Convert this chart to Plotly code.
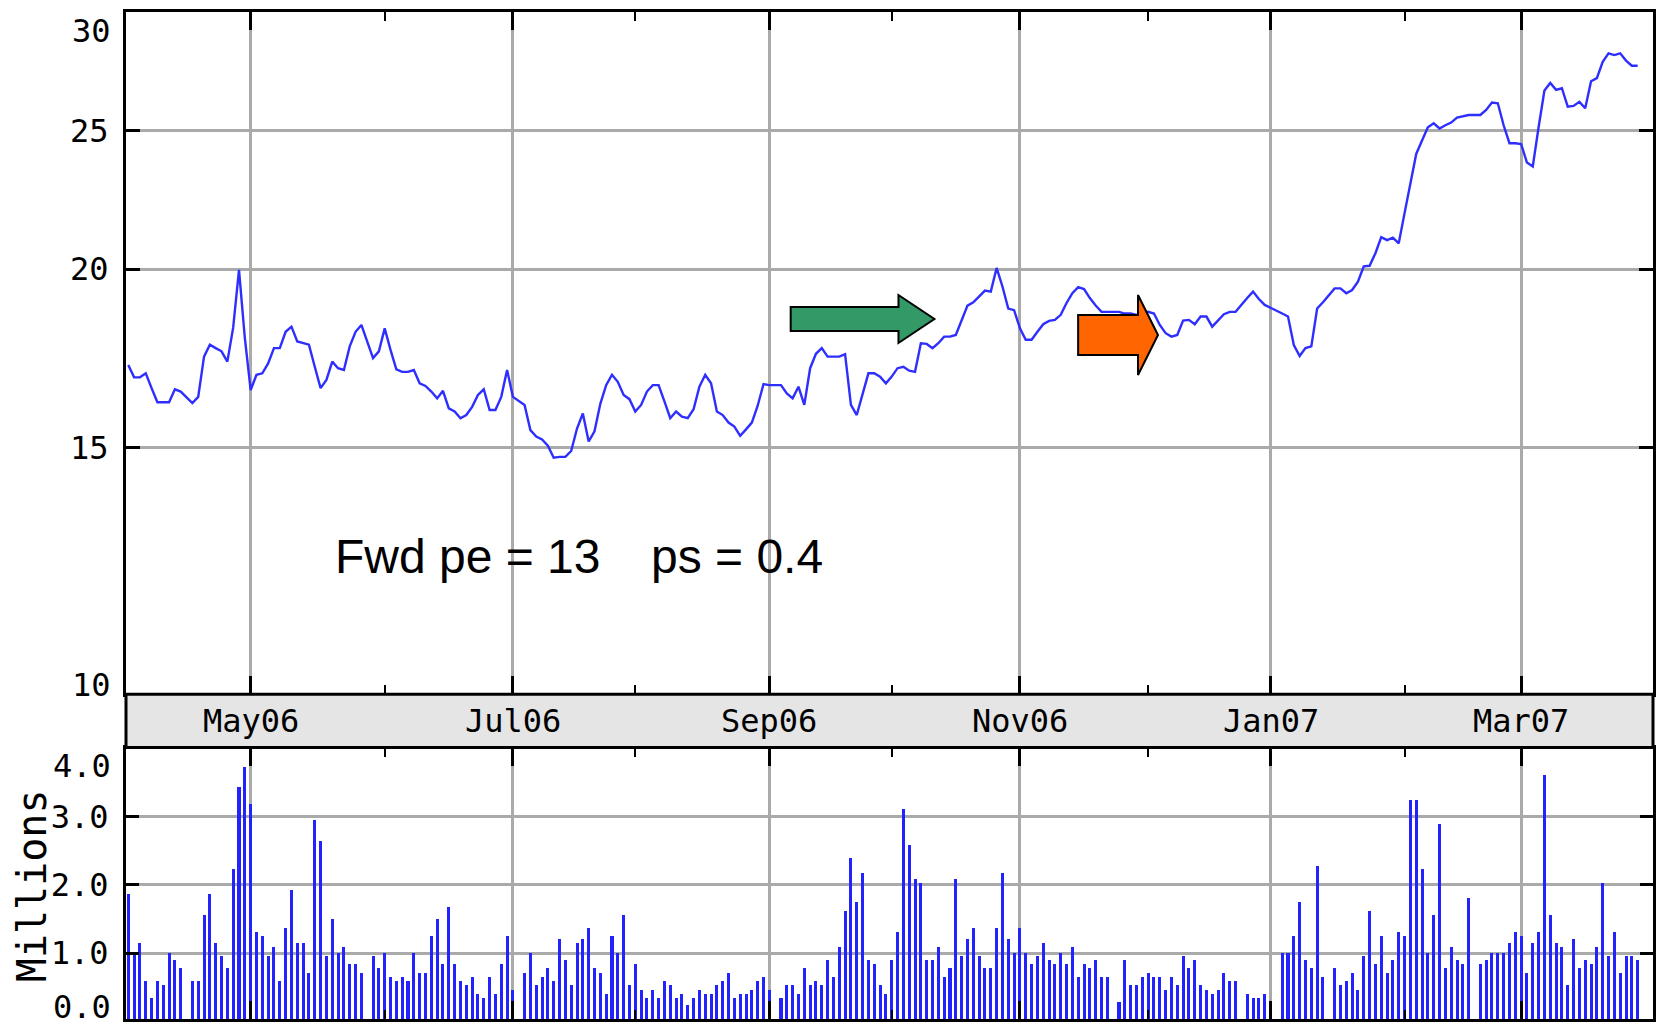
import numpy as np
import pandas as pd
import plotly.graph_objects as go

# ---------------- data ----------------
holidays = ["2006-04-14", "2006-05-29", "2006-07-04", "2006-09-04", "2006-11-23",
            "2006-12-25", "2007-01-01", "2007-01-02", "2007-01-15", "2007-02-19"]
dates = [d for d in pd.bdate_range("2006-03-31", "2007-03-29")
         if d.strftime("%Y-%m-%d") not in holidays]

price_mar06 = [17.14]
price_apr06 = [16.80, 16.80, 16.91, 16.51, 16.14, 16.14, 16.14, 16.48, 16.42, 16.12,
               16.28, 17.37, 17.71, 17.61, 17.52, 17.23, 18.20, 19.98, 17.90]
price_may06 = [16.46, 16.87, 16.91, 17.18, 17.61, 17.61, 18.08, 18.23, 17.80, 17.75,
               17.71, 17.09, 16.51, 16.73, 17.23, 17.05, 17.00, 17.66, 18.08, 18.28,
               17.33, 17.52]
price_jun06 = [18.18, 17.56, 17.02, 16.95, 16.95, 17.00, 16.64, 16.57, 16.42, 16.24,
               16.44, 15.98, 15.90, 15.73, 15.81, 16.02, 16.33, 16.48, 15.94, 15.94,
               16.28, 17.00]
price_jul06 = [16.28, 16.07, 15.43, 15.27, 15.20, 15.05, 14.76, 14.78, 14.78, 14.92,
               15.47, 15.85, 15.15, 15.40, 16.10, 16.59, 16.87, 16.68, 16.33, 16.22]
price_aug06 = [15.90, 16.07, 16.42, 16.59, 16.59, 16.16, 15.73, 15.90, 15.77, 15.73,
               15.96, 16.55, 16.87, 16.64, 15.90, 15.81, 15.62, 15.52, 15.29, 15.45,
               15.62, 16.05, 16.62]
price_sep06 = [16.59, 16.59, 16.37, 16.24, 16.55, 16.07, 17.05, 17.45, 17.61, 17.37,
               17.37, 17.37, 17.44, 16.07, 15.81, 16.37, 16.91, 16.91, 16.82, 16.64]
price_oct06 = [16.82, 17.05, 17.09, 16.98, 16.95, 17.75, 17.73, 17.61, 17.75, 17.94,
               17.94, 17.99, 18.43, 18.86, 18.96, 19.14, 19.32, 19.29, 20.04, 19.45,
               18.77, 18.72]
price_nov06 = [18.18, 17.85, 17.85, 18.08, 18.30, 18.40, 18.43, 18.58, 18.94, 19.24,
               19.43, 19.37, 19.09, 18.86, 18.67, 18.67, 18.67, 18.62, 18.62, 18.58,
               18.62]
price_dec06 = [18.67, 18.62, 18.28, 18.04, 17.94, 17.99, 18.41, 18.43, 18.30, 18.53,
               18.53, 18.23, 18.40, 18.60, 18.67, 18.67, 19.09, 19.29, 19.06, 18.88]
price_jan07 = [18.62, 18.53, 17.70, 17.39, 17.61, 17.66, 18.77, 18.96, 19.39, 19.39,
               19.24, 19.34, 19.60, 20.09, 20.11, 20.52, 21.06, 20.96, 21.04, 20.85]
price_feb07 = [21.89, 22.95, 24.08, 24.61, 25.14, 25.30, 25.09, 25.22, 25.33, 25.53,
               25.60, 25.64, 25.64, 25.85, 26.16, 26.13, 25.22, 24.50, 24.50]
price_mar07 = [24.47, 23.75, 23.60, 25.14, 26.67, 27.00, 26.70, 26.77, 25.99, 26.02,
               26.19, 25.92, 27.07, 27.21, 27.93, 28.32, 28.24, 28.32, 27.99, 27.76,
               27.76]

vol_mar06 = [1.87]
vol_apr06 = [1.01, 1.15, 0.60, 0.35, 0.60, 0.54, 1.01, 0.90, 0.78, 0.60,
             0.60, 1.56, 1.87, 1.15, 0.96, 0.78, 2.24, 3.44, 3.74]
vol_may06 = [3.19, 1.32, 1.26, 0.96, 1.09, 0.60, 1.38, 1.93, 1.15, 1.15,
             0.72, 2.96, 2.65, 0.96, 1.50, 1.01, 1.09, 0.84, 0.84, 0.72,
             0.96, 0.78]
vol_jun06 = [1.01, 0.66, 0.60, 0.66, 0.60, 1.01, 0.72, 0.72, 1.26, 1.50,
             0.84, 1.69, 0.84, 0.60, 0.54, 0.66, 0.41, 0.35, 0.66, 0.41,
             0.84, 1.26]
vol_jul06 = [0.47, 0.72, 1.01, 0.54, 0.66, 0.78, 0.60, 1.21, 0.90, 0.54,
             1.15, 1.21, 1.38, 0.78, 0.72, 0.41, 1.26, 1.01, 1.56, 0.54]
vol_aug06 = [0.84, 0.47, 0.35, 0.47, 0.35, 0.60, 0.54, 0.35, 0.41, 0.24,
             0.35, 0.47, 0.41, 0.41, 0.54, 0.60, 0.72, 0.35, 0.41, 0.41,
             0.47, 0.60, 0.66]
vol_sep06 = [0.47, 0.35, 0.54, 0.54, 0.41, 0.78, 0.54, 0.60, 0.54, 0.90,
             0.66, 1.09, 1.63, 2.41, 1.75, 2.18, 0.90, 0.84, 0.54, 0.41]
vol_oct06 = [0.90, 1.32, 3.13, 2.59, 2.10, 2.04, 0.90, 0.90, 1.09, 0.66,
             0.78, 2.10, 0.96, 1.21, 1.38, 0.96, 0.78, 0.78, 1.38, 2.18,
             1.21, 1.01]
vol_nov06 = [1.38, 1.01, 0.84, 0.96, 1.15, 0.90, 0.84, 1.01, 0.84, 1.09,
             0.66, 0.84, 0.78, 0.90, 0.66, 0.66, 0.29, 0.90, 0.54, 0.54,
             0.66]
vol_dec06 = [0.72, 0.66, 0.66, 0.47, 0.66, 0.54, 0.96, 0.78, 0.90, 0.54,
             0.47, 0.41, 0.47, 0.72, 0.60, 0.60, 0.41, 0.35, 0.35, 0.41]
vol_jan07 = [1.01, 1.01, 1.26, 1.75, 0.90, 0.78, 2.29, 0.66, 0.78, 0.54,
             0.60, 0.72, 0.47, 0.96, 1.63, 0.84, 1.26, 0.72, 0.90, 1.32]
vol_feb07 = [1.26, 3.26, 3.26, 2.24, 1.01, 1.56, 2.90, 0.78, 1.09, 0.90,
             0.84, 1.81, 0.84, 0.90, 1.01, 1.01, 1.01, 1.15, 1.32]
vol_mar07 = [1.26, 0.72, 1.15, 1.32, 3.62, 1.56, 1.15, 1.09, 0.54, 1.21,
             0.78, 0.90, 0.84, 1.09, 2.04, 0.96, 1.32, 0.72, 0.96, 0.96,
             0.90]

price = (price_mar06 + price_apr06 + price_may06 + price_jun06 + price_jul06 +
         price_aug06 + price_sep06 + price_oct06 + price_nov06 + price_dec06 +
         price_jan07 + price_feb07 + price_mar07)
volume = (vol_mar06 + vol_apr06 + vol_may06 + vol_jun06 + vol_jul06 + vol_aug06 +
          vol_sep06 + vol_oct06 + vol_nov06 + vol_dec06 + vol_jan07 + vol_feb07 +
          vol_mar07)

if not (len(price) == len(volume) == len(dates)):
    raise SystemExit(f"length mismatch {len(price)} {len(volume)} {len(dates)}")

major_starts = ["2006-05-01", "2006-07-01", "2006-09-01", "2006-11-01", "2007-01-01", "2007-03-01"]
major_labels = ["May06", "Jul06", "Sep06", "Nov06", "Jan07", "Mar07"]
minor_starts = ["2006-06-01", "2006-08-01", "2006-10-01", "2006-12-01", "2007-02-01"]
price_ticks = [15, 20, 25]
price_ticktext = ["15", "20", "25"]
vol_ticks = [1, 2, 3]
vol_ticktext = ["1.0", "2.0", "3.0"]

# ---------------- geometry helpers ----------------
W, H = 1658, 1025
ML, MR, MT, MB = 126, 2, 12, 6
PW, PH = W - ML - MR, H - MT - MB


def px(x):
    return (x - ML) / PW


def py(y):
    return 1 - (y - MT) / PH


base = np.datetime64("2006-03-30")
xi = np.busday_count(base, np.array([d.strftime("%Y-%m-%d") for d in dates], dtype="datetime64[D]"))
major_x = np.busday_count(base, np.array(major_starts, dtype="datetime64[D]")).tolist()
minor_x = np.busday_count(base, np.array(minor_starts, dtype="datetime64[D]")).tolist()

MONO = "DejaVu Sans Mono"
GRID = "#AAAAAA"

fig = go.Figure()
fig.add_trace(go.Scatter(x=xi, y=price, mode="lines",
                         line=dict(color="#2E2EFF", width=2.4),
                         xaxis="x", yaxis="y", hoverinfo="skip"))
fig.add_trace(go.Bar(x=xi, y=volume, width=0.52, marker=dict(color="#2222FF", line=dict(width=0)),
                     xaxis="x2", yaxis="y2", hoverinfo="skip"))

xcommon = dict(range=[0.61, 262.63], tickmode="array", tickvals=major_x,
               showticklabels=False, ticks="inside", ticklen=18, tickwidth=3,
               tickcolor="black", showline=True, linewidth=3, linecolor="black",
               mirror="ticks", showgrid=True, gridcolor=GRID, gridwidth=3,
               zeroline=False,
               minor=dict(tickmode="array", tickvals=minor_x, ticks="inside",
                          ticklen=9, tickwidth=2, tickcolor="black", showgrid=False))

vol_top = py(747.5)
price_bot = py(694.3)

fig.update_layout(
    width=W, height=H,
    margin=dict(l=ML, r=MR, t=MT, b=MB, pad=0),
    paper_bgcolor="white", plot_bgcolor="white",
    showlegend=False, bargap=0,
    xaxis=dict(domain=[0, 1], anchor="y", **xcommon),
    xaxis2=dict(domain=[0, 1], anchor="y2", matches="x", **xcommon),
    yaxis=dict(domain=[price_bot, 1], anchor="x", type="log",
               range=[1.0035, 1.4810], tickmode="array", tickvals=price_ticks,
               ticktext=price_ticktext, ticks="inside", ticklen=14, tickwidth=3,
               tickcolor="black", showline=True, linewidth=3, linecolor="black",
               mirror="ticks", showgrid=True, gridcolor=GRID, gridwidth=3,
               zeroline=False, ticklabelstandoff=8,
               tickfont=dict(family=MONO, size=32, color="black")),
    yaxis2=dict(domain=[0, vol_top], anchor="x2", range=[0.03, 4.02],
                tickmode="array", tickvals=vol_ticks, ticktext=vol_ticktext,
                ticks="inside", ticklen=13, tickwidth=3, tickcolor="black",
                showline=True, linewidth=3, linecolor="black", mirror="ticks",
                showgrid=True, gridcolor=GRID, gridwidth=3, zeroline=False,
                ticklabelstandoff=8,
                tickfont=dict(family=MONO, size=32, color="black")),
)

shapes = [
    dict(type="rect", xref="paper", yref="paper", x0=0, x1=1, y0=vol_top, y1=price_bot,
         fillcolor="#E5E5E5", line=dict(color="black", width=3), layer="above"),
]


def arrow_path(pts):
    return "M " + " L ".join(f"{px(a):.5f},{py(b):.5f}" for a, b in pts) + " Z"


green_pts = [(792, 307), (900, 307), (900, 295), (936, 319), (900, 343), (900, 331), (792, 331)]
orange_pts = [(1080, 315), (1140, 315), (1140, 295), (1160, 335), (1140, 375), (1140, 355), (1080, 355)]
shapes.append(dict(type="path", xref="paper", yref="paper", path=arrow_path(green_pts),
                   fillcolor="#339966", line=dict(color="black", width=2), layer="above"))
shapes.append(dict(type="path", xref="paper", yref="paper", path=arrow_path(orange_pts),
                   fillcolor="#FF6600", line=dict(color="black", width=2), layer="above"))
fig.update_layout(shapes=shapes)

ann = []
for xv, lab in zip(major_x, major_labels):
    ann.append(dict(x=xv, y=py(721), xref="x", yref="paper", text=lab, showarrow=False,
                    xanchor="center", yanchor="middle",
                    font=dict(family=MONO, size=32, color="black")))
for txt, yy in [("30", 31), ("10", 685), ("4.0", 766), ("0.0", 1007)]:
    ann.append(dict(x=px(113), y=py(yy), xref="paper", yref="paper", text=txt,
                    showarrow=False, xanchor="right", yanchor="middle",
                    font=dict(family=MONO, size=32, color="black")))
ann.append(dict(x=px(32), y=py(886), xref="paper", yref="paper", text="Millions",
                showarrow=False, textangle=-90, xanchor="center", yanchor="middle",
                font=dict(family=MONO, size=40, color="black")))
ann.append(dict(x=px(333), y=py(556), xref="paper", yref="paper", text="Fwd pe = 13",
                showarrow=False, xanchor="left", yanchor="middle",
                font=dict(family="Liberation Sans, Arial", size=48, color="black")))
ann.append(dict(x=px(650), y=py(556), xref="paper", yref="paper", text="ps = 0.4",
                showarrow=False, xanchor="left", yanchor="middle",
                font=dict(family="Liberation Sans, Arial", size=48, color="black")))
fig.update_layout(annotations=ann)

fig.write_html("out.html",
               config={"displayModeBar": False},
               post_script="document.body.style.margin='0px';document.body.style.overflow='hidden';")
